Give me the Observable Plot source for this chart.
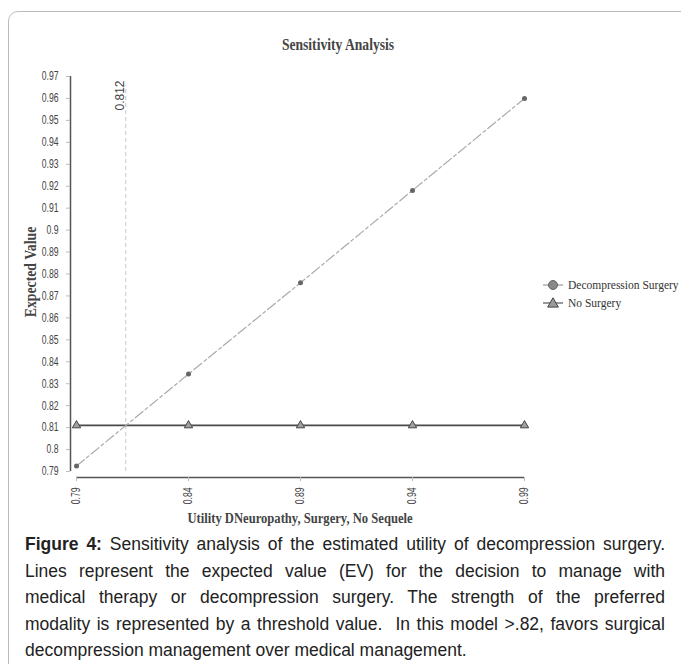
<!DOCTYPE html>
<html>
<head>
<meta charset="utf-8">
<script src="https://cdn.jsdelivr.net/npm/d3@7"></script>
<script src="https://cdn.jsdelivr.net/npm/@observablehq/plot@0.6"></script>
<style>
  html, body { margin: 0; padding: 0; background: #fff; }
  #wrap { position: relative; width: 681px; height: 664px; overflow: hidden; }
  #box { position: absolute; left: 8px; top: 11px; width: 720px; height: 720px;
         border: 1.5px solid #bcbcbc; border-radius: 10px; }
  #chart { position: absolute; left: 0; top: 0; }
  .t { position: absolute; white-space: nowrap; font-family: "Liberation Serif", "DejaVu Serif", serif;
       font-weight: bold; color: #444; }
  #title { left: 338px; top: 45px; font-size: 17px; transform: translate(-50%, -50%) scaleX(0.8); }
  #xtitle { left: 300px; top: 518px; font-size: 15px; transform: translate(-50%, -50%) scaleX(0.84); }
  #ytitle { left: 31px; top: 272px; font-size: 16px; transform: translate(-50%, -50%) rotate(-90deg) scaleX(0.86); }
  #legend { position: absolute; left: 542px; top: 276px; font: 11.5px "Liberation Serif", "DejaVu Serif", serif; color: #333; }
  #legend .row { display: flex; align-items: center; height: 18px; }
  #legend svg { margin-right: 4px; }
  #caption { position: absolute; left: 25px; top: 531px; width: 640px;
             font: 17.5px/26.5px "Liberation Sans", Arial, sans-serif; color: #222; }
  #caption .ln { white-space: nowrap; text-align: justify; text-align-last: justify; width: 640px; }
  #caption .ln.last { text-align: left; text-align-last: left; }
</style>
</head>
<body>
<div id="wrap">
  <div id="box"></div>
  <div id="chart"></div>
  <div id="title" class="t">Sensitivity Analysis</div>
  <div id="ytitle" class="t">Expected Value</div>
  <div id="xtitle" class="t">Utility DNeuropathy, Surgery, No Sequele</div>
  <div id="legend"></div>
  <div id="caption">
    <div class="ln"><b>Figure 4:</b> Sensitivity analysis of the estimated utility of decompression surgery.</div>
    <div class="ln">Lines represent the expected value (EV) for the decision to manage with</div>
    <div class="ln">medical therapy or decompression surgery. The strength of the preferred</div>
    <div class="ln">modality is represented by a threshold value.&nbsp; In this model &gt;.82, favors surgical</div>
    <div class="ln last">decompression management over medical management.</div>
  </div>
</div>
<script>
// ---- data ----
const utility = [0.79, 0.84, 0.89, 0.94, 0.99];
const decompression = [0.7925, 0.8344, 0.876, 0.9181, 0.96];
const noSurgery = [0.811, 0.811, 0.811, 0.811, 0.811];
const threshold = [0.812];
const xTicks = [0.79, 0.84, 0.89, 0.94, 0.99];
const yTicks = [0.79, 0.8, 0.81, 0.82, 0.83, 0.84, 0.85, 0.86, 0.87, 0.88, 0.89, 0.9, 0.91, 0.92, 0.93, 0.94, 0.95, 0.96, 0.97];
const seriesNames = ["Decompression Surgery", "No Surgery"];

const decRows = utility.map((u, i) => ({u, v: decompression[i]}));
const noRows = utility.map((u, i) => ({u, v: noSurgery[i]}));
const fmt = d => String(+d.toFixed(3));

const plot = Plot.plot({
  width: 681,
  height: 530,
  marginLeft: 70,
  marginTop: 76,
  marginBottom: 53,
  marginRight: 150,
  style: {fontFamily: '"Liberation Sans", Arial, sans-serif', fontSize: "12px", color: "#444", background: "transparent"},
  x: {domain: [0.79, 0.99], range: [76, 524]},
  y: {domain: [0.79, 0.97], range: [471, 76]},
  marks: [
    Plot.ruleX([0.79], {y1: 0.79, y2: 0.97, dx: -6, stroke: "#555", strokeWidth: 1.5}),
    Plot.ruleY([0.79], {x1: 0.79, x2: 0.99, dy: 6, stroke: "#555", strokeWidth: 1.5}),
    Plot.axisY({ticks: yTicks, tickFormat: fmt, tickSize: 4, tickPadding: 8, stroke: "#bbb", label: null, fill: "#444"}),
    Plot.axisX({ticks: xTicks, tickFormat: fmt, tickSize: 4, tickPadding: 6, tickRotate: -90, stroke: "#bbb", label: null, fill: "#444"}),
    Plot.ruleX(threshold, {y1: 0.79, y2: 0.966, stroke: "#c8c8c8", strokeDasharray: "4,3", strokeWidth: 1}),
    Plot.text(threshold, {x: d => d, y: 0.97, text: d => fmt(d), rotate: -90, textAnchor: "end", dx: -6, dy: 4, fill: "#444", ariaLabel: "thr"}),
    Plot.line(noRows, {x: "u", y: "v", stroke: "#4a4a4a", strokeWidth: 1.6}),
    Plot.dot(noRows, {x: "u", y: "v", symbol: "triangle", r: 3.1, stroke: "#444", fill: "#a0a0a0", strokeWidth: 1}),
    Plot.line(decRows, {x: "u", y: "v", stroke: "#aaa", strokeWidth: 1.2, strokeDasharray: "10,3,3,3"}),
    Plot.dot(decRows, {x: "u", y: "v", r: 2.5, fill: "#666", stroke: "none"})
  ]
});
document.getElementById("chart").appendChild(plot);

// condense tick labels (narrow font look)
d3.select(plot).selectAll("g[aria-label='y-axis tick label'] text, g[aria-label='x-axis tick label'] text, g[aria-label='thr'] text")
  .each(function() {
    const w = this.getComputedTextLength();
    this.setAttribute("textLength", (w * 0.72).toFixed(2));
    this.setAttribute("lengthAdjust", "spacingAndGlyphs");
  });

// legend
const legend = d3.select("#legend");
seriesNames.forEach((name, i) => {
  const row = legend.append("div").attr("class", "row");
  const svg = row.append("svg").attr("width", 22).attr("height", 12);
  svg.append("line").attr("x1", 1).attr("x2", 21).attr("y1", 6).attr("y2", 6)
     .attr("stroke", i === 0 ? "#999" : "#555").attr("stroke-width", 1.2);
  if (i === 0) {
    svg.append("circle").attr("cx", 11).attr("cy", 6).attr("r", 4.5).attr("fill", "#888").attr("stroke", "#666");
  } else {
    svg.append("path").attr("d", d3.symbol(d3.symbolTriangle, 50)()).attr("transform", "translate(11,7)")
       .attr("fill", "#9a9a9a").attr("stroke", "#444");
  }
  row.append("span").text(name);
});

// fit caption lines into 640px
document.querySelectorAll("#caption .ln").forEach(el => {
  const r = document.createRange();
  r.selectNodeContents(el);
  const w = r.getBoundingClientRect().width;
  if (w > 640) {
    const n = el.textContent.length;
    el.style.letterSpacing = ((640 - w) / n - 0.05).toFixed(3) + "px";
  }
});
</script>
</body>
</html>
